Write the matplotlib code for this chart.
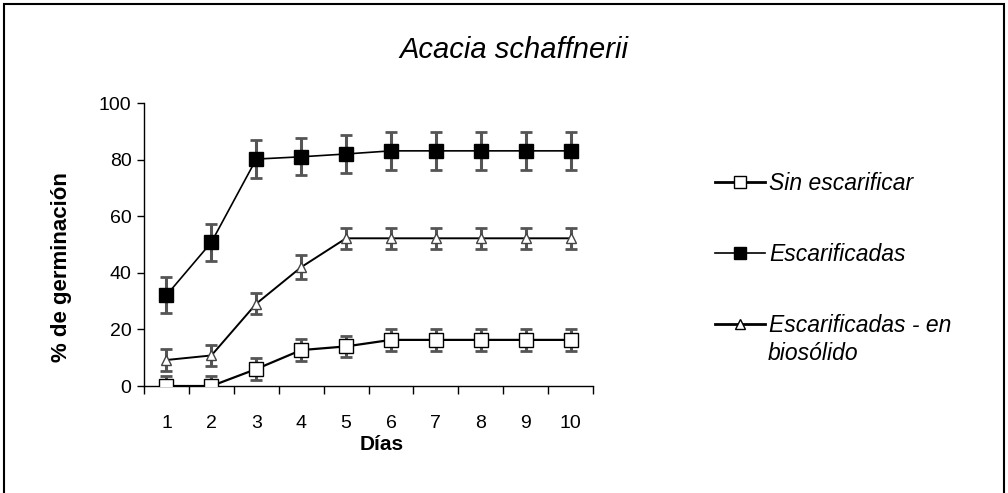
import matplotlib.pyplot as plt
from matplotlib.lines import Line2D
from matplotlib.patches import Rectangle

plt.rcParams['font.family'] = ['Liberation Sans', 'DejaVu Sans']

# Datos
dias = [1, 2, 3, 4, 5, 6, 7, 8, 9, 10]
sin_esc = [0, 0, 6, 12.7, 14, 16.3, 16.3, 16.3, 16.3, 16.3]
sin_esc_err = [3.7, 3.7, 4, 3.8, 3.8, 3.8, 3.8, 3.8, 3.8, 3.8]
esc = [32.1, 50.8, 80.2, 81, 82, 83.1, 83.1, 83.1, 83.1, 83.1]
esc_err = [6.4, 6.6, 6.6, 6.6, 6.8, 6.6, 6.6, 6.6, 6.6, 6.6]
bio = [9.2, 10.8, 29.1, 42, 52.2, 52.2, 52.2, 52.2, 52.2, 52.2]
bio_err = [3.8, 3.6, 3.8, 4.2, 3.8, 3.8, 3.8, 3.8, 3.8, 3.8]
etiquetas = ["Sin escarificar", "Escarificadas", "Escarificadas - en"]

fig = plt.figure(figsize=(10.08, 4.93), dpi=100)
ax = fig.add_axes([0.1429, 0.217, 0.4454, 0.574])

# Barras de error grises con tapas negras
for y, e in [(sin_esc, sin_esc_err), (esc, esc_err), (bio, bio_err)]:
    cont = ax.errorbar(dias, y, yerr=e, fmt='none', ecolor='#555555', elinewidth=2.2,
                       capsize=4.5, capthick=2, zorder=2)
    for cap in cont[1]:
        cap.set_color('black')

ax.plot(dias, esc, color='black', lw=1.2, marker='s', ms=10, mfc='black', mec='black', zorder=3)
ax.plot(dias, bio, color='black', lw=1.4, marker='^', ms=7.5, mfc='white', mec='#444444', mew=1, zorder=3)
ax.plot(dias, sin_esc, color='black', lw=1.6, marker='s', ms=9.5, mfc='white', mec='black', mew=1, zorder=4)

ax.set_xlim(0.5, 10.5)
ax.set_ylim(0, 100)
ax.set_yticks([0, 20, 40, 60, 80, 100])
ax.set_xticks(dias)
ax.set_xticks([d + 0.5 for d in range(0, 11)], minor=True)
ax.tick_params(axis='x', which='major', length=0, pad=21, labelsize=14)
ax.tick_params(axis='x', which='minor', length=6, width=1, direction='out')
ax.tick_params(axis='y', length=5, width=1, direction='out', pad=4, labelsize=14)
for s in ['top', 'right']:
    ax.spines[s].set_visible(False)
ax.spines['left'].set_linewidth(1)
ax.spines['bottom'].set_linewidth(1)

fig.text(382 / 1008, 1 - 445 / 493, "Días", fontsize=15, fontweight='bold', ha='center', va='center')
fig.text(61 / 1008, 1 - 267 / 493, "% de germinación", fontsize=16, fontweight='bold',
         rotation=90, ha='center', va='center')

fig.text(514 / 1008, 1 - 50 / 493, "Acacia schaffnerii", fontsize=21, style='italic',
         ha='center', va='center')

# Leyenda
handles = [
    Line2D([], [], color='black', lw=2, marker='s', ms=9, mfc='white', mec='black'),
    Line2D([], [], color='black', lw=1.2, marker='s', ms=8.5, mfc='black', mec='black'),
    Line2D([], [], color='black', lw=2, marker='^', ms=6.5, mfc='white', mec='black'),
]
leg = fig.legend(handles, etiquetas, loc='upper left', bbox_to_anchor=(715 / 1008, 1 - 172 / 493),
                 frameon=False, handlelength=2.2, handletextpad=0.15, labelspacing=2.1,
                 borderpad=0, borderaxespad=0, prop={'size': 16.5, 'style': 'italic'})
fig.text(768 / 1008, 1 - 353 / 493, "biosólido", fontsize=16.5, style='italic', ha='left', va='center')

# Marco de la figura
fig.patches.append(Rectangle((0.004, -0.05), 0.992, 1.042, transform=fig.transFigure,
                             fill=False, edgecolor='black', lw=1.5))

fig.savefig("out.png", dpi=100)
